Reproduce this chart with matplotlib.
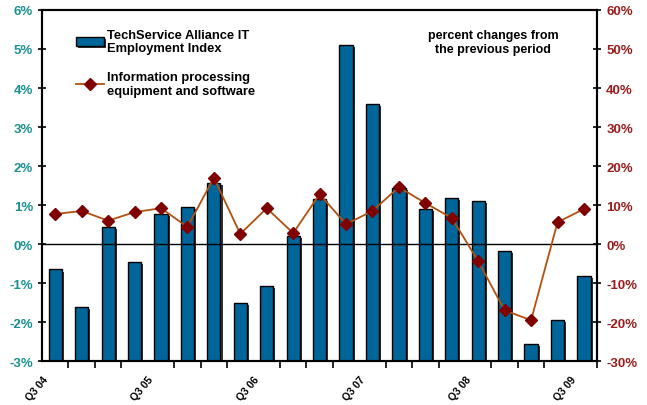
import matplotlib.pyplot as plt
import matplotlib.patheffects as pe
import numpy as np
from matplotlib.ticker import FuncFormatter, MultipleLocator

plt.rcParams['font.family'] = ['Liberation Sans', 'DejaVu Sans']
plt.rcParams['font.weight'] = 'bold'

quarters = ["Q3 04", "Q4 04", "Q1 05", "Q2 05", "Q3 05", "Q4 05", "Q1 06", "Q2 06",
            "Q3 06", "Q4 06", "Q1 07", "Q2 07", "Q3 07", "Q4 07", "Q1 08", "Q2 08",
            "Q3 08", "Q4 08", "Q1 09", "Q2 09", "Q3 09"]
employment = [-0.65, -1.6, 0.45, -0.45, 0.77, 0.95, 1.56, -1.52, -1.08, 0.2, 1.15,
              5.1, 3.58, 1.43, 0.9, 1.18, 1.1, -0.17, -2.57, -1.95, -0.82]
info_equip = [7.7, 8.5, 6.0, 8.2, 9.2, 4.4, 17.0, 2.6, 9.2, 2.8, 12.8,
              5.1, 8.5, 14.6, 10.5, 6.7, -4.4, -17.0, -19.5, 5.6, 9.0]

x = np.arange(len(quarters))
base = -3  # bars rise from the bottom of the axis, as in the original Excel chart

fig = plt.figure(figsize=(6.47, 4.06), dpi=100)
ax = fig.add_axes([0.065, 0.108, 0.858, 0.865])
ax2 = ax.twinx()

ax.bar(x, np.array(employment) - base, 0.5, bottom=base, color='#006699', edgecolor='black',
       linewidth=1, label='TechService Alliance IT\nEmployment Index', zorder=2,
       path_effects=[pe.SimplePatchShadow(offset=(1.5, -1.5), shadow_rgbFace='black', alpha=0.8), pe.Normal()])
ax.axhline(0, color='black', linewidth=1, zorder=3)

ax2.plot(x, info_equip, color='#b4500f', linewidth=1.3, marker='D', markersize=6,
         markerfacecolor='#800000', markeredgecolor='#800000', zorder=4,
         label='Information processing\nequipment and software')

# labels sit at the left edge of their quarter, like the Excel original
ax.set_xticks(x[::4] - 0.5)
ax.set_xticklabels(quarters[::4], rotation=50, ha='right', rotation_mode='anchor', fontsize=7.5)
ax.set_xticks(np.arange(-0.5, len(quarters)), minor=True)
ax.set_xlim(-0.5, len(quarters) - 0.5)
ax.set_ylim(-3, 6)
ax2.set_ylim(-30, 60)
ax.yaxis.set_major_locator(MultipleLocator(1))
ax2.yaxis.set_major_locator(MultipleLocator(10))
ax.yaxis.set_major_formatter(FuncFormatter(lambda v, p: f"{v:.0f}%"))
ax2.yaxis.set_major_formatter(FuncFormatter(lambda v, p: f"{v:.0f}%"))

ax.tick_params(axis='x', which='major', length=0, pad=9)
ax.tick_params(axis='x', which='minor', direction='out', length=5, width=1.2)
ax.tick_params(axis='y', colors='black', labelcolor='#1a9090', direction='inout', length=6, width=1.2, labelsize=9.5)
ax2.tick_params(axis='y', labelcolor='#9b1c1c', direction='inout', length=6, width=1.2, labelsize=9.5)
for s in list(ax.spines.values()) + list(ax2.spines.values()):
    s.set_linewidth(1.5)

h1, l1 = ax.get_legend_handles_labels()
h2, l2 = ax2.get_legend_handles_labels()
ax2.legend(h1 + h2, l1 + l2, loc='upper left', bbox_to_anchor=(0.04, 0.98), frameon=False,
           fontsize=9.3, handlelength=2.2, labelspacing=1.3, handletextpad=0.2)

ax.text(0.813, 0.945, 'percent changes from\nthe previous period', transform=ax.transAxes,
        ha='center', va='top', fontsize=9)

fig.savefig('out.png', dpi=100)
